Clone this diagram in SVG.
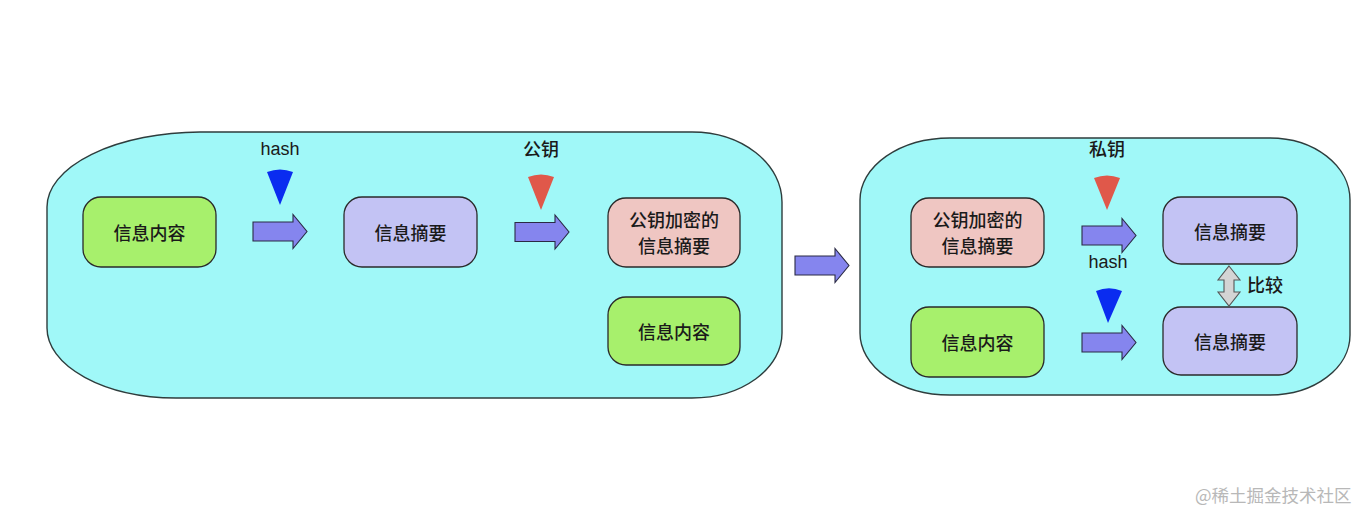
<svg xmlns="http://www.w3.org/2000/svg" xmlns:xlink="http://www.w3.org/1999/xlink" width="1372" height="522" viewBox="0 0 1372 522">
<style>
.cont{fill:#a0f8f8;stroke:#2e3d3d;stroke-width:1.4}
.node{stroke:#2a2a2a;stroke-width:1.3}
.green{fill:#a7f06c}
.purple{fill:#c3c3f4}
.pink{fill:#efc6c2}
.t{font-family:"Noto Sans CJK SC","Liberation Sans",sans-serif;font-size:18px;font-weight:500;fill:#1a1a1a;text-anchor:middle;dominant-baseline:central}
.lab{font-family:"Liberation Sans","Noto Sans CJK SC",sans-serif;font-size:18px;font-weight:500;fill:#1a1a1a;text-anchor:middle}
.arr{fill:#8585ee;stroke:#2a2a44;stroke-width:1.1}
.blue{fill:#0a2cf0}
.red{fill:#e0584a}
</style>
<defs>
<path id="barrow" d="M0,-9.5 L40,-9.5 L40,-17 L54,0 L40,17 L40,9.5 L0,9.5 Z"/>
</defs>
<rect width="1372" height="522" fill="#ffffff"/>

<g id="container-left">
<path class="cont" d="M200,132 L692,132 A90,70 0 0 1 782,202 L782,333 A90,65 0 0 1 692,398 L176,398 A130,70 0 0 1 47,328 L47,207 A155,75 0 0 1 200,132 Z"/>
</g>
<g id="container-right">
<path class="cont" d="M950,138 L1270,138 A80,62 0 0 1 1350,200 L1350,335 A80,60 0 0 1 1270,395 L950,395 A90,62 0 0 1 860,333 L860,200 A90,62 0 0 1 950,138 Z"/>
</g>

<g id="n-content-1"><rect class="node green" x="83" y="197" width="133" height="70" rx="18"/><text class="t" x="149.5" y="232">信息内容</text></g>
<g id="n-digest-1"><rect class="node purple" x="344" y="197" width="133" height="70" rx="18"/><text class="t" x="410.5" y="232">信息摘要</text></g>
<g id="n-enc-1"><rect class="node pink" x="608" y="198" width="132" height="69" rx="18"/><text class="t" x="674" y="219">公钥加密的</text><text class="t" x="674" y="245">信息摘要</text></g>
<g id="n-content-2"><rect class="node green" x="608" y="297" width="132" height="68" rx="18"/><text class="t" x="674" y="331">信息内容</text></g>

<g id="n-enc-2"><rect class="node pink" x="911" y="198" width="133" height="69" rx="18"/><text class="t" x="977.5" y="219">公钥加密的</text><text class="t" x="977.5" y="245">信息摘要</text></g>
<g id="n-content-3"><rect class="node green" x="911" y="307" width="133" height="70" rx="18"/><text class="t" x="977.5" y="342">信息内容</text></g>
<g id="n-digest-2"><rect class="node purple" x="1163" y="197" width="134" height="67" rx="18"/><text class="t" x="1230" y="231">信息摘要</text></g>
<g id="n-digest-3"><rect class="node purple" x="1163" y="307" width="134" height="68" rx="18"/><text class="t" x="1230" y="341">信息摘要</text></g>

<g id="keys">
<text class="lab" x="280" y="155">hash</text>
<path class="blue" d="M280,205 L267,172 A35.5,35.5 0 0 1 293,172 Z"/>
<text class="lab" x="541" y="156">公钥</text>
<path class="red" d="M541,210 L528,177 A35.5,35.5 0 0 1 554,177 Z"/>
<text class="lab" x="1107" y="156">私钥</text>
<path class="red" d="M1107,210 L1094,178 A35,35 0 0 1 1120,178 Z"/>
<text class="lab" x="1108" y="268">hash</text>
<path class="blue" d="M1108,323 L1096,291 A34,34 0 0 1 1122,291 Z"/>
<text class="lab" x="1265" y="292">比较</text>
</g>

<g id="connectors">
<use xlink:href="#barrow" class="arr" transform="translate(253,231.5)"/>
<use xlink:href="#barrow" class="arr" transform="translate(515,232)"/>
<use xlink:href="#barrow" class="arr" transform="translate(795,265.5)"/>
<use xlink:href="#barrow" class="arr" transform="translate(1082,235.5)"/>
<use xlink:href="#barrow" class="arr" transform="translate(1082,342.5)"/>
<path d="M1229,266 L1240,280 L1234,280 L1234,292 L1240,292 L1229,306 L1218,292 L1224,292 L1224,280 L1218,280 Z" fill="#d4d4d4" stroke="#555" stroke-width="1.1"/>
</g>

<text x="1195" y="502" font-family="'Noto Sans CJK SC','Liberation Sans',sans-serif" font-size="17.5" fill="#b8b8b8">@稀土掘金技术社区</text>
</svg>
